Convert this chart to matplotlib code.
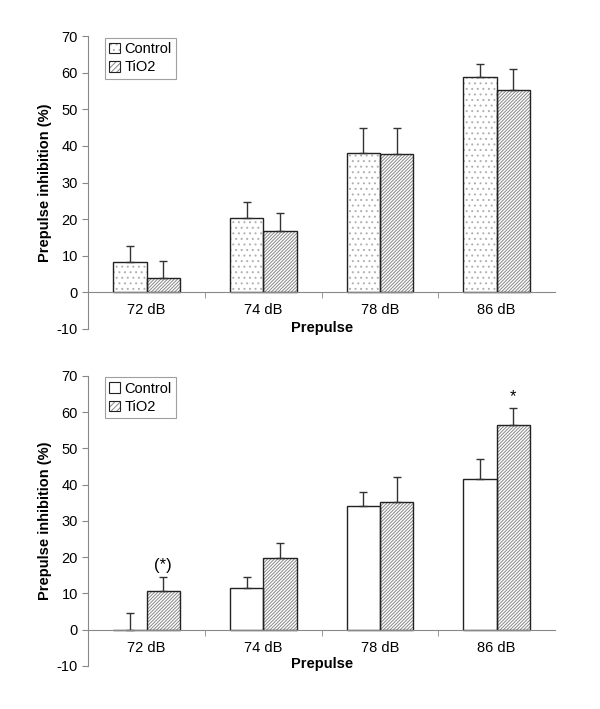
import numpy as np
import matplotlib.pyplot as plt
from matplotlib.patches import Patch

plt.rcParams['font.family'] = ['Liberation Sans', 'DejaVu Sans']
plt.rcParams['hatch.linewidth'] = 0.7
plt.rcParams['axes.unicode_minus'] = False

categories = ['72 dB', '74 dB', '78 dB', '86 dB']

# top panel
top_control = [8.3, 20.2, 38.0, 58.8]
top_control_err = [4.3, 4.5, 7.0, 3.7]
top_tio2 = [4.0, 16.7, 37.8, 55.3]
top_tio2_err = [4.5, 5.1, 7.2, 5.7]

# bottom panel
bot_control = [-0.2, 11.5, 34.0, 41.5]
bot_control_err = [4.7, 2.9, 4.0, 5.5]
bot_tio2 = [10.6, 19.8, 35.3, 56.5]
bot_tio2_err = [3.9, 4.2, 6.7, 4.5]
bot_marks = ['(*)', '', '', '*']

fig = plt.figure(figsize=(6, 7.09), dpi=100)
ax1 = fig.add_axes([0.147, 0.536, 0.778, 0.413])
ax2 = fig.add_axes([0.147, 0.061, 0.778, 0.409])

x = np.arange(len(categories))
w = 0.286
tio_hatch = '//////////'


def draw(ax, ctrl, ctrl_err, tio, tio_err, ctrl_hatch):
    # hatch fill in grey, outline drawn on top in dark
    ax.bar(x - w / 2, ctrl, w, color='white', edgecolor='#b0b0b0', hatch=ctrl_hatch,
           linewidth=0)
    ax.bar(x + w / 2, tio, w, color='white', edgecolor='#888888', hatch=tio_hatch,
           linewidth=0)
    ax.bar(x - w / 2, ctrl, w, facecolor='none', edgecolor='#222222', linewidth=1.0)
    ax.bar(x + w / 2, tio, w, facecolor='none', edgecolor='#222222', linewidth=1.0)
    ax.errorbar(x - w / 2, ctrl, yerr=[np.zeros(4), ctrl_err], fmt='none',
                ecolor='#333333', elinewidth=1.0, capsize=3)
    ax.errorbar(x + w / 2, tio, yerr=[np.zeros(4), tio_err], fmt='none',
                ecolor='#333333', elinewidth=1.0, capsize=3)
    ax.set_xlim(-0.5, 3.5)
    ax.set_ylim(-10, 70)
    ax.set_yticks(range(-10, 71, 10))
    ax.set_xticks(x)
    ax.set_xticklabels(categories)
    ax.set_xticks([0.5, 1.5, 2.5], minor=True)
    ax.tick_params(axis='x', which='major', length=0, pad=8, labelsize=10.5)
    ax.tick_params(axis='x', which='minor', length=4, color='#888888')
    ax.tick_params(axis='y', length=4, color='#888888', labelsize=10.5)
    for s in ['top', 'right']:
        ax.spines[s].set_visible(False)
    ax.spines['bottom'].set_position(('data', 0))
    ax.spines['bottom'].set_color('#888888')
    ax.spines['left'].set_color('#888888')
    ax.set_ylabel('Prepulse inhibition (%)', fontweight='bold', fontsize=10.5, labelpad=3)
    ax.text(1.5, -9.6, 'Prepulse', ha='center', va='center', fontweight='bold', fontsize=10.5)

    outline = Patch(facecolor='none', edgecolor='#222222', linewidth=0.8)
    h_ctrl = (Patch(facecolor='white', edgecolor='#b0b0b0', hatch=ctrl_hatch, linewidth=0), outline)
    h_tio = (Patch(facecolor='white', edgecolor='#888888', hatch='//////', linewidth=0), outline)
    leg = ax.legend([h_ctrl, h_tio], ['Control', 'TiO2'], loc='upper left',
                    bbox_to_anchor=(0.035, 0.995), fontsize=10.5,
                    fancybox=False, edgecolor='#888888', handlelength=0.75,
                    handleheight=0.75, handletextpad=0.3, borderpad=0.3,
                    labelspacing=0.3, borderaxespad=0)
    leg.get_frame().set_linewidth(0.8)


draw(ax1, top_control, top_control_err, top_tio2, top_tio2_err, '...')
draw(ax2, bot_control, bot_control_err, bot_tio2, bot_tio2_err, '')

for i, m in enumerate(bot_marks):
    if m:
        ax2.text(x[i] + w / 2, bot_tio2[i] + bot_tio2_err[i] + 1.2, m,
                 ha='center', va='bottom', fontsize=12)

fig.savefig('out.png', dpi=100)
